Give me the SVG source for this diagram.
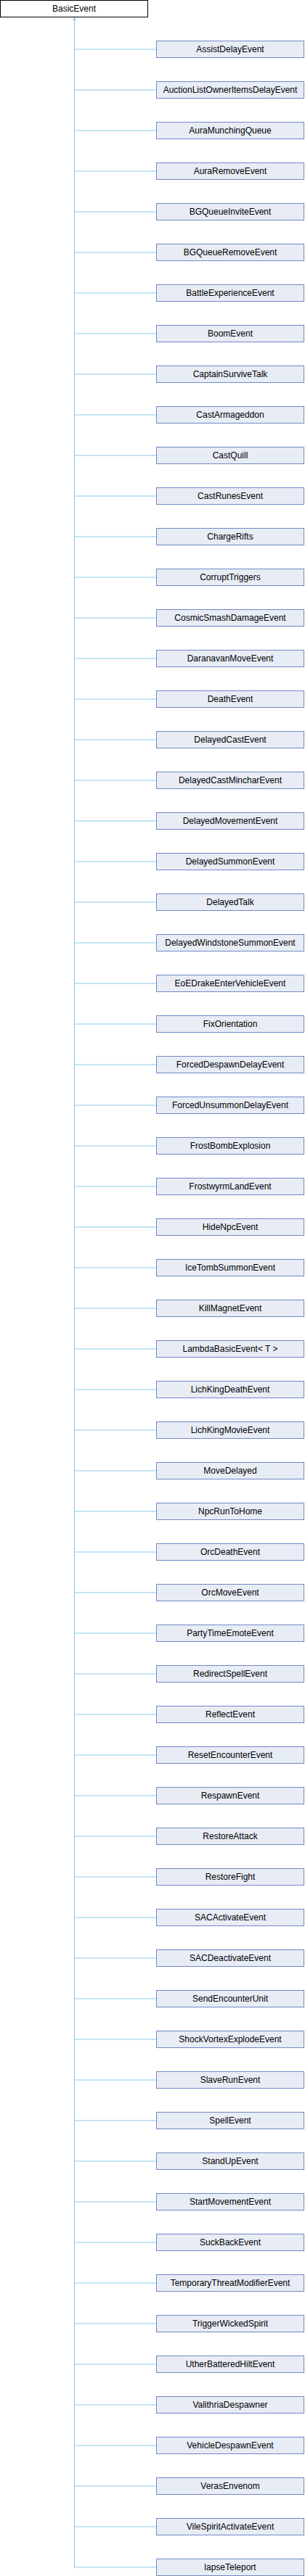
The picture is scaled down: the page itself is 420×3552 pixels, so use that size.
<svg xmlns="http://www.w3.org/2000/svg" width="420" height="3552" viewBox="0 0 420 3552">
<style>
.bg{fill:#ffffff}
.root rect{fill:#ffffff;stroke:#000000;stroke-width:1}
.node rect{fill:#e8ecf5;stroke:#7389c6;stroke-width:1}
text{font-family:"Liberation Sans",Arial,sans-serif;font-size:12px;fill:#000000;text-anchor:middle}
.edge{stroke:#8ac6ea;stroke-width:1;fill:none}
</style>
<defs>
<marker id="arr" viewBox="0 0 10 10" refX="10" refY="5" markerWidth="4" markerHeight="5" orient="auto" markerUnits="userSpaceOnUse" preserveAspectRatio="none">
<path d="M0,0 L10,5 L0,10 Z" fill="#8ac6ea"/>
</marker>
</defs>
<rect class="bg" x="0" y="0" width="420" height="3552"/>
<g id="connectors">
<path class="edge" d="M102.5,3540 L102.5,24" marker-end="url(#arr)"/>
<path class="edge" d="M102.5,68 H215 M102.5,124 H215 M102.5,180 H215 M102.5,236 H215 M102.5,292 H215 M102.5,348 H215 M102.5,404 H215 M102.5,460 H215 M102.5,516 H215 M102.5,572 H215 M102.5,628 H215 M102.5,684 H215 M102.5,740 H215 M102.5,796 H215 M102.5,852 H215 M102.5,908 H215 M102.5,964 H215 M102.5,1020 H215 M102.5,1076 H215 M102.5,1132 H215 M102.5,1188 H215 M102.5,1244 H215 M102.5,1300 H215 M102.5,1356 H215 M102.5,1412 H215 M102.5,1468 H215 M102.5,1524 H215 M102.5,1580 H215 M102.5,1636 H215 M102.5,1692 H215 M102.5,1748 H215 M102.5,1804 H215 M102.5,1860 H215 M102.5,1916 H215 M102.5,1972 H215 M102.5,2028 H215 M102.5,2084 H215 M102.5,2140 H215 M102.5,2196 H215 M102.5,2252 H215 M102.5,2308 H215 M102.5,2364 H215 M102.5,2420 H215 M102.5,2476 H215 M102.5,2532 H215 M102.5,2588 H215 M102.5,2644 H215 M102.5,2700 H215 M102.5,2756 H215 M102.5,2812 H215 M102.5,2868 H215 M102.5,2924 H215 M102.5,2980 H215 M102.5,3036 H215 M102.5,3092 H215 M102.5,3148 H215 M102.5,3204 H215 M102.5,3260 H215 M102.5,3316 H215 M102.5,3372 H215 M102.5,3428 H215 M102.5,3484 H215 M102.5,3540 H215"/>
</g>
<g id="BasicEvent" class="root"><rect x="0.5" y="0.5" width="203" height="23"/><text x="102" y="16">BasicEvent</text></g>
<g id="n1" class="node"><rect x="215.5" y="56.5" width="203" height="23"/><text x="317" y="72">AssistDelayEvent</text></g>
<g id="n2" class="node"><rect x="215.5" y="112.5" width="203" height="23"/><text x="317" y="128">AuctionListOwnerItemsDelayEvent</text></g>
<g id="n3" class="node"><rect x="215.5" y="168.5" width="203" height="23"/><text x="317" y="184">AuraMunchingQueue</text></g>
<g id="n4" class="node"><rect x="215.5" y="224.5" width="203" height="23"/><text x="317" y="240">AuraRemoveEvent</text></g>
<g id="n5" class="node"><rect x="215.5" y="280.5" width="203" height="23"/><text x="317" y="296">BGQueueInviteEvent</text></g>
<g id="n6" class="node"><rect x="215.5" y="336.5" width="203" height="23"/><text x="317" y="352">BGQueueRemoveEvent</text></g>
<g id="n7" class="node"><rect x="215.5" y="392.5" width="203" height="23"/><text x="317" y="408">BattleExperienceEvent</text></g>
<g id="n8" class="node"><rect x="215.5" y="448.5" width="203" height="23"/><text x="317" y="464">BoomEvent</text></g>
<g id="n9" class="node"><rect x="215.5" y="504.5" width="203" height="23"/><text x="317" y="520">CaptainSurviveTalk</text></g>
<g id="n10" class="node"><rect x="215.5" y="560.5" width="203" height="23"/><text x="317" y="576">CastArmageddon</text></g>
<g id="n11" class="node"><rect x="215.5" y="616.5" width="203" height="23"/><text x="317" y="632">CastQuill</text></g>
<g id="n12" class="node"><rect x="215.5" y="672.5" width="203" height="23"/><text x="317" y="688">CastRunesEvent</text></g>
<g id="n13" class="node"><rect x="215.5" y="728.5" width="203" height="23"/><text x="317" y="744">ChargeRifts</text></g>
<g id="n14" class="node"><rect x="215.5" y="784.5" width="203" height="23"/><text x="317" y="800">CorruptTriggers</text></g>
<g id="n15" class="node"><rect x="215.5" y="840.5" width="203" height="23"/><text x="317" y="856">CosmicSmashDamageEvent</text></g>
<g id="n16" class="node"><rect x="215.5" y="896.5" width="203" height="23"/><text x="317" y="912">DaranavanMoveEvent</text></g>
<g id="n17" class="node"><rect x="215.5" y="952.5" width="203" height="23"/><text x="317" y="968">DeathEvent</text></g>
<g id="n18" class="node"><rect x="215.5" y="1008.5" width="203" height="23"/><text x="317" y="1024">DelayedCastEvent</text></g>
<g id="n19" class="node"><rect x="215.5" y="1064.5" width="203" height="23"/><text x="317" y="1080">DelayedCastMincharEvent</text></g>
<g id="n20" class="node"><rect x="215.5" y="1120.5" width="203" height="23"/><text x="317" y="1136">DelayedMovementEvent</text></g>
<g id="n21" class="node"><rect x="215.5" y="1176.5" width="203" height="23"/><text x="317" y="1192">DelayedSummonEvent</text></g>
<g id="n22" class="node"><rect x="215.5" y="1232.5" width="203" height="23"/><text x="317" y="1248">DelayedTalk</text></g>
<g id="n23" class="node"><rect x="215.5" y="1288.5" width="203" height="23"/><text x="317" y="1304">DelayedWindstoneSummonEvent</text></g>
<g id="n24" class="node"><rect x="215.5" y="1344.5" width="203" height="23"/><text x="317" y="1360">EoEDrakeEnterVehicleEvent</text></g>
<g id="n25" class="node"><rect x="215.5" y="1400.5" width="203" height="23"/><text x="317" y="1416">FixOrientation</text></g>
<g id="n26" class="node"><rect x="215.5" y="1456.5" width="203" height="23"/><text x="317" y="1472">ForcedDespawnDelayEvent</text></g>
<g id="n27" class="node"><rect x="215.5" y="1512.5" width="203" height="23"/><text x="317" y="1528">ForcedUnsummonDelayEvent</text></g>
<g id="n28" class="node"><rect x="215.5" y="1568.5" width="203" height="23"/><text x="317" y="1584">FrostBombExplosion</text></g>
<g id="n29" class="node"><rect x="215.5" y="1624.5" width="203" height="23"/><text x="317" y="1640">FrostwyrmLandEvent</text></g>
<g id="n30" class="node"><rect x="215.5" y="1680.5" width="203" height="23"/><text x="317" y="1696">HideNpcEvent</text></g>
<g id="n31" class="node"><rect x="215.5" y="1736.5" width="203" height="23"/><text x="317" y="1752">IceTombSummonEvent</text></g>
<g id="n32" class="node"><rect x="215.5" y="1792.5" width="203" height="23"/><text x="317" y="1808">KillMagnetEvent</text></g>
<g id="n33" class="node"><rect x="215.5" y="1848.5" width="203" height="23"/><text x="317" y="1864">LambdaBasicEvent&lt; T &gt;</text></g>
<g id="n34" class="node"><rect x="215.5" y="1904.5" width="203" height="23"/><text x="317" y="1920">LichKingDeathEvent</text></g>
<g id="n35" class="node"><rect x="215.5" y="1960.5" width="203" height="23"/><text x="317" y="1976">LichKingMovieEvent</text></g>
<g id="n36" class="node"><rect x="215.5" y="2016.5" width="203" height="23"/><text x="317" y="2032">MoveDelayed</text></g>
<g id="n37" class="node"><rect x="215.5" y="2072.5" width="203" height="23"/><text x="317" y="2088">NpcRunToHome</text></g>
<g id="n38" class="node"><rect x="215.5" y="2128.5" width="203" height="23"/><text x="317" y="2144">OrcDeathEvent</text></g>
<g id="n39" class="node"><rect x="215.5" y="2184.5" width="203" height="23"/><text x="317" y="2200">OrcMoveEvent</text></g>
<g id="n40" class="node"><rect x="215.5" y="2240.5" width="203" height="23"/><text x="317" y="2256">PartyTimeEmoteEvent</text></g>
<g id="n41" class="node"><rect x="215.5" y="2296.5" width="203" height="23"/><text x="317" y="2312">RedirectSpellEvent</text></g>
<g id="n42" class="node"><rect x="215.5" y="2352.5" width="203" height="23"/><text x="317" y="2368">ReflectEvent</text></g>
<g id="n43" class="node"><rect x="215.5" y="2408.5" width="203" height="23"/><text x="317" y="2424">ResetEncounterEvent</text></g>
<g id="n44" class="node"><rect x="215.5" y="2464.5" width="203" height="23"/><text x="317" y="2480">RespawnEvent</text></g>
<g id="n45" class="node"><rect x="215.5" y="2520.5" width="203" height="23"/><text x="317" y="2536">RestoreAttack</text></g>
<g id="n46" class="node"><rect x="215.5" y="2576.5" width="203" height="23"/><text x="317" y="2592">RestoreFight</text></g>
<g id="n47" class="node"><rect x="215.5" y="2632.5" width="203" height="23"/><text x="317" y="2648">SACActivateEvent</text></g>
<g id="n48" class="node"><rect x="215.5" y="2688.5" width="203" height="23"/><text x="317" y="2704">SACDeactivateEvent</text></g>
<g id="n49" class="node"><rect x="215.5" y="2744.5" width="203" height="23"/><text x="317" y="2760">SendEncounterUnit</text></g>
<g id="n50" class="node"><rect x="215.5" y="2800.5" width="203" height="23"/><text x="317" y="2816">ShockVortexExplodeEvent</text></g>
<g id="n51" class="node"><rect x="215.5" y="2856.5" width="203" height="23"/><text x="317" y="2872">SlaveRunEvent</text></g>
<g id="n52" class="node"><rect x="215.5" y="2912.5" width="203" height="23"/><text x="317" y="2928">SpellEvent</text></g>
<g id="n53" class="node"><rect x="215.5" y="2968.5" width="203" height="23"/><text x="317" y="2984">StandUpEvent</text></g>
<g id="n54" class="node"><rect x="215.5" y="3024.5" width="203" height="23"/><text x="317" y="3040">StartMovementEvent</text></g>
<g id="n55" class="node"><rect x="215.5" y="3080.5" width="203" height="23"/><text x="317" y="3096">SuckBackEvent</text></g>
<g id="n56" class="node"><rect x="215.5" y="3136.5" width="203" height="23"/><text x="317" y="3152">TemporaryThreatModifierEvent</text></g>
<g id="n57" class="node"><rect x="215.5" y="3192.5" width="203" height="23"/><text x="317" y="3208">TriggerWickedSpirit</text></g>
<g id="n58" class="node"><rect x="215.5" y="3248.5" width="203" height="23"/><text x="317" y="3264">UtherBatteredHiltEvent</text></g>
<g id="n59" class="node"><rect x="215.5" y="3304.5" width="203" height="23"/><text x="317" y="3320">ValithriaDespawner</text></g>
<g id="n60" class="node"><rect x="215.5" y="3360.5" width="203" height="23"/><text x="317" y="3376">VehicleDespawnEvent</text></g>
<g id="n61" class="node"><rect x="215.5" y="3416.5" width="203" height="23"/><text x="317" y="3432">VerasEnvenom</text></g>
<g id="n62" class="node"><rect x="215.5" y="3472.5" width="203" height="23"/><text x="317" y="3488">VileSpiritActivateEvent</text></g>
<g id="n63" class="node"><rect x="215.5" y="3528.5" width="203" height="23"/><text x="317" y="3544">lapseTeleport</text></g>
</svg>
